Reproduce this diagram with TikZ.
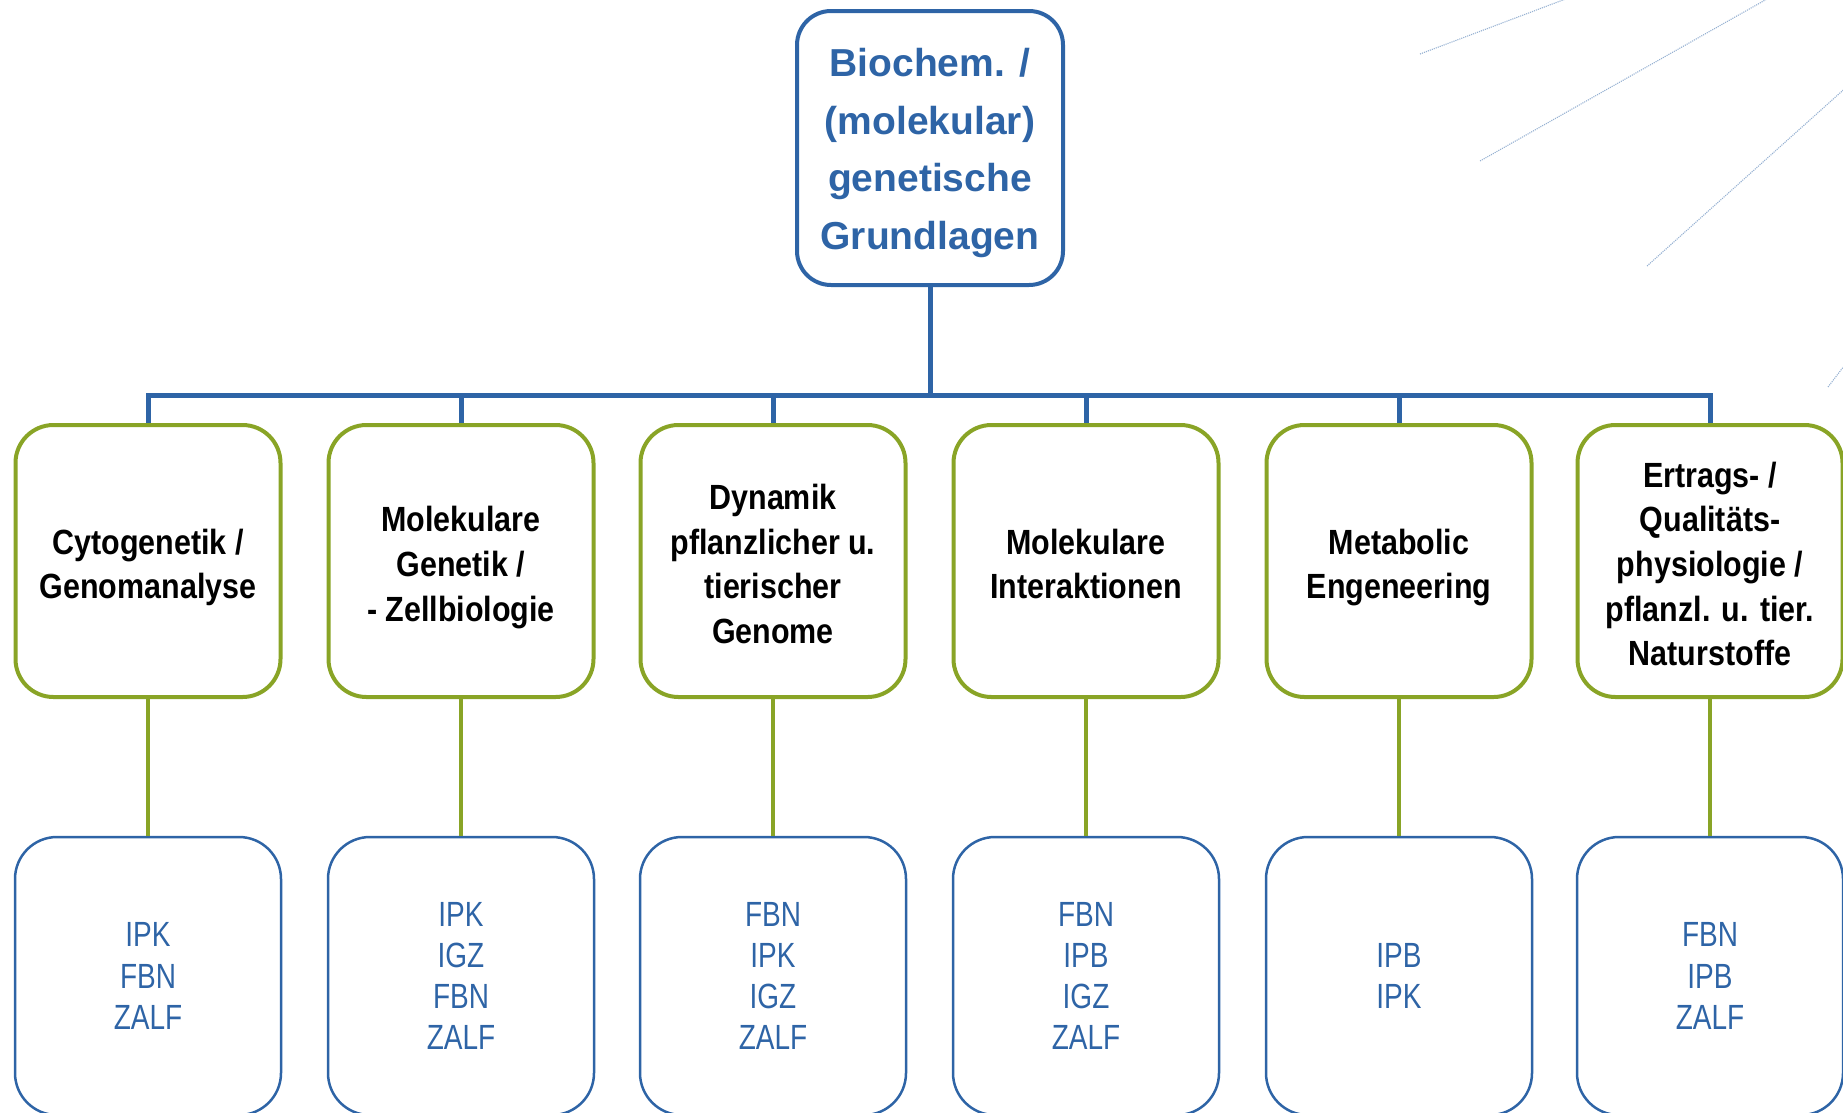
\documentclass[tikz,border=0pt]{standalone}
\usepackage{fontspec}
\setmainfont{Liberation Sans}
\newfontfamily\headfont{Liberation Sans}
\newfontfamily\fieldfont[FakeStretch=0.87]{Liberation Sans}
\newfontfamily\instfont[FakeStretch=0.8]{Liberation Sans}
\definecolor{hgblue}{RGB}{46,100,166}
\definecolor{hggreen}{RGB}{137,164,38}

\begin{document}
\begin{tikzpicture}[x=1pt,y=-1pt,
    headbox/.style={draw=hgblue, line width=4pt, rounded corners=34pt,
      minimum width=266pt, minimum height=274pt, inner sep=0pt},
    headtext/.style={align=center, inner sep=0pt, text=hgblue,
      font=\headfont\bfseries\fontsize{39}{57.6}\selectfont,
      execute at end node=\strut},
    fieldbox/.style={draw=hggreen, line width=4pt, rounded corners=38pt,
      minimum width=265pt, minimum height=272pt, inner sep=0pt},
    fieldtext/.style={align=center, inner sep=0pt,
      font=\fieldfont\bfseries\fontsize{35}{44.7}\selectfont,
      execute at end node=\strut},
    inst/.style={draw=hgblue, line width=2.5pt, rounded corners=42pt,
      minimum width=266pt, minimum height=278pt, inner sep=0pt, align=center,
      text=hgblue, font=\instfont\fontsize{35}{41.2}\selectfont},
    bluewire/.style={draw=hgblue, line width=5pt},
    greenwire/.style={draw=hggreen, line width=4.5pt},
    ray/.style={draw=hgblue!50, line width=1.1pt, densely dotted}]
      \useasboundingbox (0,0) rectangle (1843,1112);
      \clip (0,0) rectangle (1843,1112);
      % rays in the corner
      \draw[ray] (1420,54) -- (1600,-14);
      \draw[ray] (1480,161) -- (1790,-14);
      \draw[ray] (1647,266) -- (1860,75);
      \draw[ray] (1828,387) -- (1860,345);
      \node[headbox] (top) at (930,148) {};
      \node[headtext] (toptxt) at ([yshift=-9.5pt]top.center) {Biochem. /\\(molekular)\\genetische\\Grundlagen};
      \coordinate (bus) at (930,395);
      \foreach \i/\x/\fld/\ins in {
          1/148/{Cytogenetik /\\Genomanalyse}/{IPK\\FBN\\ZALF},
          2/461/{Molekulare\\Genetik /\\- Zellbiologie}/{IPK\\IGZ\\FBN\\ZALF},
          3/773/{Dynamik\\pflanzlicher u.\\tierischer\\Genome}/{FBN\\IPK\\IGZ\\ZALF},
          4/1086/{Molekulare\\Interaktionen}/{FBN\\IPB\\IGZ\\ZALF},
          5/1399/{Metabolic\\Engeneering}/{IPB\\IPK},
          6/1710/{Ertrags- /\\Qualitäts-\\physiologie /\\pflanzl. u. tier.\\Naturstoffe}/{FBN\\IPB\\ZALF}}{
        \node[fieldbox] (f\i) at (\x,561) {};
        \node[fieldtext] (ft\i) at ([yshift=-9.5pt]f\i.center) {\fld};
        \node[inst] (s\i) at (\x,976) {\ins};
        \draw[greenwire] (f\i) -- (s\i);
      }
      \draw[bluewire] (top) -- (top |- bus);
      \draw[bluewire] (f1.north) -- (f1.north |- bus) -- (f6.north |- bus) -- (f6.north);
      \foreach \i in {2,...,5}
        \draw[bluewire] (bus -| f\i.north) -- (f\i.north);
\end{tikzpicture}
\end{document}
